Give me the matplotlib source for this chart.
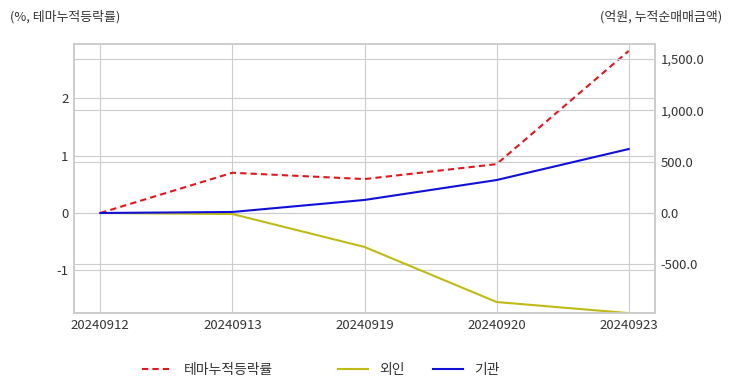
import matplotlib
matplotlib.use('Agg')
import matplotlib.pyplot as plt
from matplotlib.ticker import FuncFormatter
from matplotlib.lines import Line2D

plt.rcParams['font.family'] = ['Noto Sans CJK KR', 'DejaVu Sans']
plt.rcParams['axes.unicode_minus'] = False

# data
dates = ['20240912', '20240913', '20240919', '20240920', '20240923']
theme_rate = [0.0, 0.70, 0.59, 0.85, 2.82]        # % (left axis)
foreign = [0.0, -10.0, -331.0, -867.0, -975.0]    # 억원 (right axis)
institution = [0.0, 10.0, 127.0, 321.0, 623.0]    # 억원 (right axis)

x = list(range(len(dates)))
grid_c = '#cccccc'
text_c = '#333333'

fig = plt.figure(figsize=(7.32, 3.92), dpi=100)
ax = fig.add_axes([0.101, 0.2015, 0.794, 0.6863])
ax2 = ax.twinx()

ax.plot(x, theme_rate, color='#e8141c', ls='--', lw=1.5, dashes=(3, 2))
ax2.plot(x, foreign, color='#c0bb14', lw=1.5)
ax2.plot(x, institution, color='#1010d8', lw=1.5)

ax.set_xlim(-0.2, 4.2)
ax.set_ylim(-1.74, 2.94)
ax2.set_ylim(-974, 1646)

ax.set_xticks(x)
ax.set_xticklabels(dates)
ax.set_yticks([-1, 0, 1, 2])
ax.set_yticklabels(['-1', '0', '1', '2'])
ax2.set_yticks([-500, 0, 500, 1000, 1500])
ax2.yaxis.set_major_formatter(FuncFormatter(lambda v, p: f'{v:,.1f}'))

for a in (ax, ax2):
    a.grid(True, color=grid_c, lw=0.8)
    a.tick_params(length=0, labelsize=9.5, colors=text_c, pad=4)
    for s in a.spines.values():
        s.set_color(grid_c)
        s.set_linewidth(1.2)
ax2.grid(axis='x', visible=False)
ax.set_axisbelow(True)
ax2.set_axisbelow(True)

fig.text(0.014, 0.958, '(%, 테마누적등락률)', fontsize=9.3, color=text_c, ha='left', va='center')
fig.text(0.986, 0.958, '(억원, 누적순매매금액)', fontsize=9.3, color=text_c, ha='right', va='center')

h1 = [Line2D([], [], color='#e8141c', ls='--', lw=1.5, dashes=(3, 2))]
h2 = [Line2D([], [], color='#c0bb14', lw=1.5), Line2D([], [], color='#1010d8', lw=1.5)]
fig.legend(h1, ['테마누적등락률'], loc='center', bbox_to_anchor=(0.283, 0.056),
           frameon=False, fontsize=10, handlelength=2.2, labelcolor=text_c)
fig.legend(h2, ['외인', '기관'], loc='center', bbox_to_anchor=(0.572, 0.056), ncol=2,
           frameon=False, fontsize=10, handlelength=2.2, columnspacing=2.0, labelcolor=text_c)

fig.savefig('out.png', dpi=100)
